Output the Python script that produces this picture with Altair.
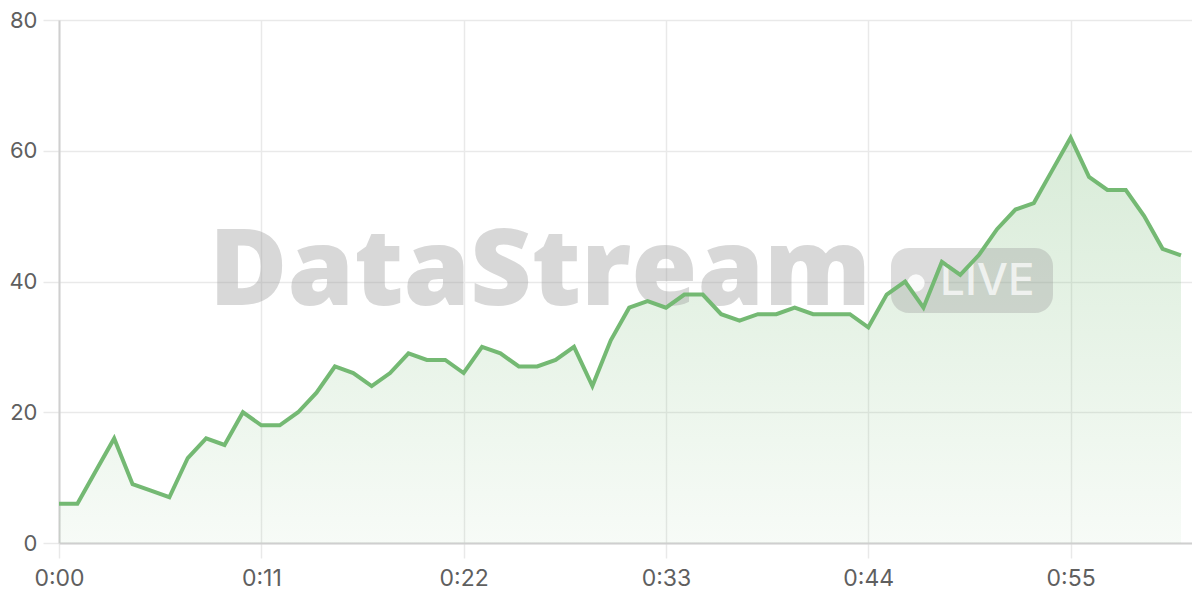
import altair as alt
import pandas as pd

seconds = list(range(62))
values = [6, 6, 11, 16, 9, 8, 7, 13, 16, 15,
          20, 18, 18, 20, 23, 27, 26, 24, 26, 29,
          28, 28, 26, 30, 29, 27, 27, 28, 30, 24,
          31, 36, 37, 36, 38, 38, 35, 34, 35, 35,
          36, 35, 35, 35, 33, 38, 40, 36, 43, 41,
          44, 48, 51, 52, 57, 62, 56, 54, 54, 50,
          45, 44]
x_ticks = [0, 11, 22, 33, 44, 55]
y_ticks = [0, 20, 40, 60, 80]
watermark = ["DataStream"]
badge_text = ["LIVE"]

df = pd.DataFrame({"t": seconds, "v": values})

GREEN = "#74b973"
W, H = 1133, 523

xs = alt.Scale(domain=[0, 61.6], nice=False, zero=False)
ys = alt.Scale(domain=[0, 80], nice=False)

label_expr = "floor(datum.value/60) + ':' + (datum.value % 60 < 10 ? '0' : '') + (datum.value % 60)"

x_enc = alt.X("t:Q", scale=xs, axis=alt.Axis(
    values=x_ticks, labelExpr=label_expr, title=None, grid=True, labelFlush=False,
    gridColor="#e9e9e9", gridWidth=1.5, tickColor="#e9e9e9", tickWidth=1.5, tickSize=15,
    domainColor="#cfcfcf", domainWidth=2, labelFont="Inter", labelFontSize=23,
    labelColor="#5f5f5f", labelPadding=9))
y_enc = alt.Y("v:Q", scale=ys, axis=alt.Axis(
    values=y_ticks, title=None, grid=True, labelFlush=False,
    gridColor="#e9e9e9", gridWidth=1.5, tickColor="#e9e9e9", tickWidth=1.5, tickSize=16,
    domainColor="#cfcfcf", domainWidth=2, labelFont="Inter", labelFontSize=22,
    labelColor="#5f5f5f", labelPadding=6))

base = alt.Chart(df)

area = base.mark_area(
    color=alt.Gradient(
        gradient="linear",
        stops=[alt.GradientStop(color="rgba(116,185,115,0.28)", offset=0),
               alt.GradientStop(color="rgba(116,185,115,0.06)", offset=1)],
        x1=1, x2=1, y1=0, y2=1),
).encode(x=x_enc, y=y_enc)

line = base.mark_line(color=GREEN, strokeWidth=4, strokeJoin="miter").encode(x="t:Q", y="v:Q")

wm = alt.Chart(pd.DataFrame({"s": watermark})).mark_text(
    font="Open Sans", fontSize=107, fontWeight=800, color="#9a9a9a", opacity=0.38,
    align="left", baseline="alphabetic"
).encode(text="s:N", x=alt.value(150), y=alt.value(285))

badge = alt.Chart(pd.DataFrame({"s": badge_text})).mark_rect(
    cornerRadius=18, color="#9a9a9a", opacity=0.35
).encode(x=alt.value(832), x2=alt.value(994), y=alt.value(228), y2=alt.value(293))

dot = alt.Chart(pd.DataFrame({"s": badge_text})).mark_point(
    shape="circle", filled=True, color="white", opacity=0.85, size=300
).encode(x=alt.value(857), y=alt.value(263))

live = alt.Chart(pd.DataFrame({"s": badge_text})).mark_text(
    font="Inter", fontSize=44, fontWeight=500, color="white", opacity=0.7,
    align="left", baseline="alphabetic"
).encode(text="s:N", x=alt.value(881), y=alt.value(275))

chart = alt.layer(area, wm, badge, dot, live, line).properties(
    width=W, height=H,
    autosize=alt.AutoSizeParams(type="none"),
    padding={"left": 51, "top": 12, "right": 0, "bottom": 55},
).configure_view(stroke=None).configure(background="white")

chart.save("out.html", embed_options={"renderer": "svg", "actions": False})
